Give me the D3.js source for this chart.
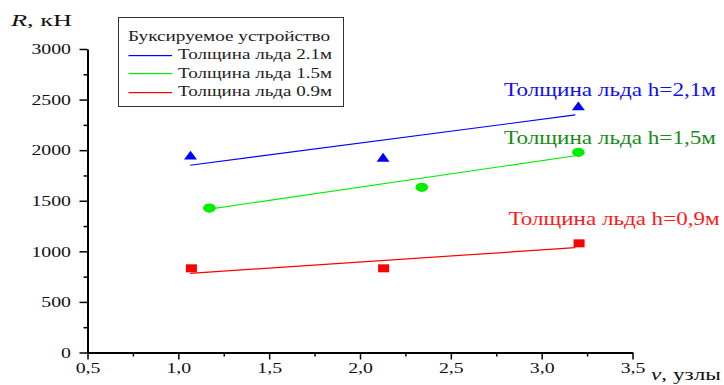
<!DOCTYPE html>
<html>
<head>
<meta charset="utf-8">
<script src="https://cdn.jsdelivr.net/npm/d3@7/dist/d3.min.js"></script>
<style>
  body { margin: 0; background: #fff; }
  svg { display: block; }
  svg text { font-family: "Liberation Serif", "DejaVu Serif", serif !important; }
</style>
</head>
<body>
<div id="chart"></div>
<script>
// axis ticks
const speedTicks = [0.5, 1.0, 1.5, 2.0, 2.5, 3.0, 3.5];
const speedMinor = [0.75, 1.25, 1.75, 2.25, 2.75, 3.25];
const forceTicks = [0, 500, 1000, 1500, 2000, 2500, 3000];
const forceMinor = [250, 750, 1250, 1750, 2250, 2750];

// measured points (v, узлы / R, кН)
const ice21Speed = [1.067, 2.127, 3.202];
const ice21Force = [1950, 1929, 2437];
const ice15Speed = [1.171, 2.34, 3.202];
const ice15Force = [1428, 1633, 1979];
const ice09Speed = [1.072, 2.13, 3.206];
const ice09Force = [832, 832, 1079];

// fitted lines (end points)
const fit21Speed = [1.065, 3.185];
const fit21Force = [1851, 2348];
const fit15Speed = [1.17, 3.185];
const fit15Force = [1418, 1945];
const fit09Speed = [1.065, 3.185];
const fit09Force = [783, 1036];

const legendTitle = 'Буксируемое устройство';
const legendLabels = ['Толщина льда 2.1м', 'Толщина льда 1.5м', 'Толщина льда 0.9м'];
const legendColors = ['#0000ff', '#00ee00', '#ff0000'];
const noteLabels = ['Толщина льда h=2,1м', 'Толщина льда h=1,5м', 'Толщина льда h=0,9м'];

const width = 724, height = 385;
const serif = '"Liberation Serif", "DejaVu Serif", serif';
const stretch = 1.32; // picture is wider than tall

const svg = d3.select('#chart').append('svg')
  .attr('width', width)
  .attr('height', height)
  .attr('font-family', serif);

const x = d3.scaleLinear().domain([0.5, 3.5]).range([87.5, 632.5]);
const y = d3.scaleLinear().domain([0, 3000]).range([352.5, 49]);

const fmt = d => d3.format('.1f')(d).replace('.', ',');

// x axis
svg.append('g')
  .attr('transform', 'translate(0,352.5)')
  .call(d3.axisBottom(x).tickValues(speedMinor).tickSize(4).tickFormat(''))
  .call(g => g.select('.domain').remove())
  .call(g => g.selectAll('line').attr('stroke', '#000').attr('stroke-width', 1.5));

const xAxis = svg.append('g')
  .attr('transform', 'translate(0,352.5)')
  .call(d3.axisBottom(x).tickValues(speedTicks).tickSize(7).tickSizeOuter(0).tickPadding(2.4).tickFormat(fmt));
xAxis.attr('font-family', serif);
xAxis.select('.domain').attr('stroke', '#000').attr('stroke-width', 2);
xAxis.selectAll('line').attr('stroke', '#000').attr('stroke-width', 1.5);
xAxis.selectAll('text')
  .attr('font-size', 15)
  .attr('fill', '#111')
  .attr('transform', `scale(${stretch},1)`);

// y axis
svg.append('g')
  .attr('transform', 'translate(87.5,0)')
  .call(d3.axisLeft(y).tickValues(forceMinor).tickSize(4).tickFormat(''))
  .call(g => g.select('.domain').remove())
  .call(g => g.selectAll('line').attr('stroke', '#000').attr('stroke-width', 1.5));

const yAxis = svg.append('g')
  .attr('transform', 'translate(87.5,0)')
  .call(d3.axisLeft(y).tickValues(forceTicks).tickSize(8).tickSizeOuter(0).tickFormat(d3.format('d')));
yAxis.attr('font-family', serif);
yAxis.select('.domain').attr('stroke', '#000').attr('stroke-width', 2);
yAxis.selectAll('line').attr('stroke', '#000').attr('stroke-width', 1.5);
yAxis.selectAll('text')
  .attr('font-size', 15)
  .attr('fill', '#111')
  .attr('x', -16.5 / stretch)
  .attr('transform', `scale(${stretch},1)`);

// axis titles
const rTitle = svg.append('text')
  .attr('x', 11).attr('y', 26)
  .attr('font-size', 17).attr('fill', '#111')
  .attr('textLength', 61).attr('lengthAdjust', 'spacingAndGlyphs');
rTitle.append('tspan').attr('font-style', 'italic').text('R');
rTitle.append('tspan').text(', кН');

const vTitle = svg.append('text')
  .attr('x', 651).attr('y', 380)
  .attr('font-size', 16).attr('fill', '#111')
  .attr('textLength', 70).attr('lengthAdjust', 'spacingAndGlyphs');
vTitle.append('tspan').attr('font-style', 'italic').text('v');
vTitle.append('tspan').text(', узлы');

// fitted lines
const line = d3.line().x(d => x(d[0])).y(d => y(d[1]));
const fits = [
  {v: fit21Speed, r: fit21Force, color: '#0000ff'},
  {v: fit15Speed, r: fit15Force, color: '#00ee00'},
  {v: fit09Speed, r: fit09Force, color: '#ff0000'}
];
fits.forEach(f => {
  svg.append('path')
    .datum(f.v.map((v, i) => [v, f.r[i]]))
    .attr('d', line)
    .attr('fill', 'none')
    .attr('stroke', f.color)
    .attr('stroke-width', 1.2);
});

// markers
svg.selectAll('.tri')
  .data(ice21Speed.map((v, i) => [v, ice21Force[i]]))
  .enter().append('path')
  .attr('class', 'tri')
  .attr('d', 'M0,-4.5L6.5,4.3L-6.5,4.3Z')
  .attr('transform', d => `translate(${x(d[0])},${y(d[1])})`)
  .attr('fill', '#0000ff');

svg.selectAll('.dot')
  .data(ice15Speed.map((v, i) => [v, ice15Force[i]]))
  .enter().append('ellipse')
  .attr('class', 'dot')
  .attr('cx', d => x(d[0]))
  .attr('cy', d => y(d[1]))
  .attr('rx', 6.3).attr('ry', 4.6)
  .attr('fill', '#00ee00');

svg.selectAll('.sq')
  .data(ice09Speed.map((v, i) => [v, ice09Force[i]]))
  .enter().append('rect')
  .attr('class', 'sq')
  .attr('x', d => x(d[0]) - 5.5)
  .attr('y', d => y(d[1]) - 4)
  .attr('width', 11).attr('height', 8)
  .attr('fill', '#ff0000');

// notes next to lines
const notes = [
  {text: noteLabels[0], x: 504, y: 96, len: 212, color: '#1010ee'},
  {text: noteLabels[1], x: 504, y: 144, len: 212, color: '#1a8a1a'},
  {text: noteLabels[2], x: 508.5, y: 225, len: 211, color: '#ff1a1a'}
];
notes.forEach(n => {
  svg.append('text')
    .attr('x', n.x).attr('y', n.y)
    .attr('font-size', 19)
    .attr('fill', n.color)
    .attr('textLength', n.len).attr('lengthAdjust', 'spacingAndGlyphs')
    .text(n.text);
});

// legend
const legend = svg.append('g');
legend.append('rect')
  .attr('x', 118.5).attr('y', 17.5)
  .attr('width', 225).attr('height', 89)
  .attr('fill', '#fff')
  .attr('stroke', '#333').attr('stroke-width', 1);
legend.append('text')
  .attr('x', 128).attr('y', 40.5)
  .attr('font-size', 14).attr('fill', '#222')
  .attr('textLength', 202).attr('lengthAdjust', 'spacingAndGlyphs')
  .text(legendTitle);
legendLabels.forEach((lab, i) => {
  const by = 59 + i * 18.5;
  const ly = Math.round(by - 4.5) + 0.5;
  legend.append('rect')
    .attr('x', 128.5).attr('y', ly - 0.5)
    .attr('width', 43.5).attr('height', 1.2)
    .attr('fill', legendColors[i]);
  legend.append('text')
    .attr('x', 178).attr('y', by)
    .attr('font-size', 14).attr('fill', '#222')
    .attr('textLength', 154).attr('lengthAdjust', 'spacingAndGlyphs')
    .text(lab);
});
</script>
</body>
</html>
